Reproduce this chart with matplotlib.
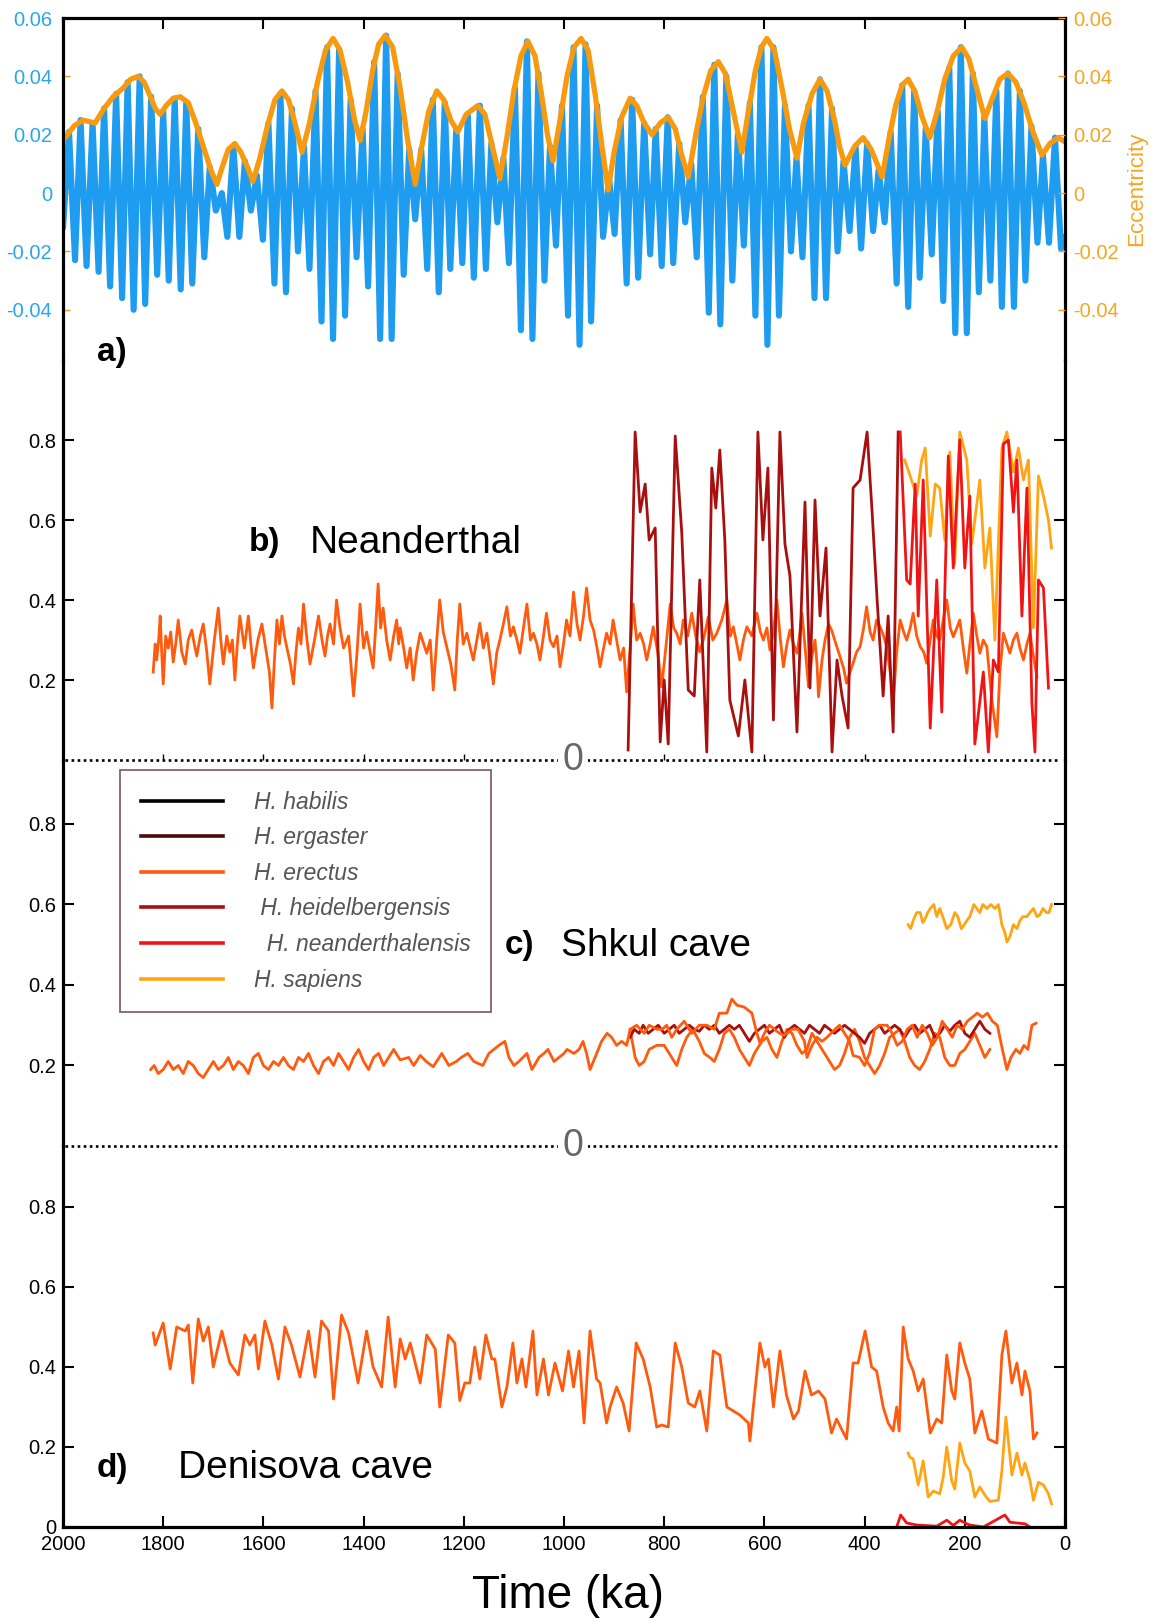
import matplotlib
matplotlib.use("Agg")
import matplotlib.pyplot as plt
from matplotlib.lines import Line2D

plt.rcParams["font.family"] = ["Liberation Sans", "DejaVu Sans"]

# ---- data (time in ka) --------------------------------------------------
# a) eccentricity envelope
ECC_T = [2000, 1996, 1978, 1960, 1948, 1936, 1918, 1900, 1880, 1865, 1850, 1838, 1828, 1816,
         1806, 1794, 1780, 1766, 1750, 1735, 1720, 1705, 1693, 1682, 1670, 1657, 1645, 1632,
         1621, 1607, 1592, 1577, 1563, 1550, 1537, 1523, 1508, 1492, 1476, 1461, 1447, 1432,
         1418, 1407, 1395, 1382, 1370, 1357, 1342, 1327, 1312, 1297, 1285, 1270, 1254, 1240,
         1226, 1212, 1195, 1172, 1158, 1143, 1128, 1114, 1100, 1086, 1072, 1058, 1045, 1033,
         1022, 1008, 994, 980, 966, 952, 938, 925, 912, 900, 885, 868, 855, 840, 824, 808,
         792, 778, 765, 752, 737, 722, 707, 692, 678, 662, 645, 632, 618, 606, 595, 580, 565,
         550, 535, 522, 505, 489, 475, 460, 450, 439, 420, 403, 387, 375, 365, 352, 338, 325,
         313, 300, 285, 270, 255, 240, 223, 206, 192, 175, 160, 146, 130, 114, 98, 82, 64, 46,
         30, 14, 4]
ECC_V = [0.018, 0.019, 0.023, 0.025, 0.0245, 0.024, 0.029, 0.033, 0.036, 0.039, 0.040, 0.038,
         0.034, 0.029, 0.027, 0.030, 0.0325, 0.033, 0.031, 0.024, 0.016, 0.008, 0.003, 0.009,
         0.015, 0.017, 0.014, 0.009, 0.004, 0.012, 0.023, 0.032, 0.035, 0.032, 0.024, 0.014,
         0.024, 0.038, 0.049, 0.053, 0.049, 0.038, 0.025, 0.018, 0.028, 0.042, 0.051, 0.054,
         0.050, 0.036, 0.018, 0.003, 0.015, 0.028, 0.035, 0.032, 0.025, 0.021, 0.027, 0.030,
         0.027, 0.016, 0.005, 0.019, 0.035, 0.047, 0.052, 0.047, 0.034, 0.020, 0.011, 0.025,
         0.040, 0.050, 0.053, 0.049, 0.034, 0.017, 0.001, 0.014, 0.026, 0.0325, 0.030, 0.024,
         0.020, 0.024, 0.026, 0.022, 0.013, 0.0055, 0.020, 0.033, 0.042, 0.045, 0.041, 0.028,
         0.014, 0.028, 0.042, 0.050, 0.053, 0.049, 0.036, 0.022, 0.012, 0.024, 0.034, 0.039,
         0.035, 0.025, 0.016, 0.0096, 0.016, 0.019, 0.015, 0.010, 0.0055, 0.018, 0.030, 0.037,
         0.039, 0.035, 0.026, 0.019, 0.028, 0.039, 0.047, 0.050, 0.046, 0.035, 0.0256, 0.032,
         0.039, 0.041, 0.038, 0.031, 0.021, 0.013, 0.017, 0.019, 0.018]

# a) precession index (extrema of each half cycle)
PREC_T = [2000, 1988, 1976, 1965, 1953, 1941, 1929, 1918, 1906, 1894, 1882, 1871, 1859, 1847,
          1836, 1824, 1812, 1800, 1789, 1777, 1765, 1754, 1742, 1730, 1718, 1707, 1695, 1683,
          1672, 1660, 1648, 1637, 1625, 1613, 1601, 1590, 1578, 1566, 1555, 1543, 1531, 1519,
          1508, 1496, 1484, 1473, 1461, 1449, 1437, 1426, 1414, 1402, 1391, 1379, 1367, 1355,
          1344, 1332, 1320, 1309, 1297, 1285, 1273, 1262, 1250, 1238, 1227, 1215, 1203, 1192,
          1180, 1168, 1156, 1145, 1133, 1121, 1110, 1098, 1086, 1074, 1063, 1051, 1039, 1028,
          1016, 1004, 992, 981, 969, 957, 946, 934, 922, 910, 899, 887, 875, 864, 852, 840,
          828, 817, 805, 793, 782, 770, 758, 746, 735, 723, 711, 700, 688, 676, 664, 653, 641,
          629, 618, 606, 594, 582, 571, 559, 547, 536, 524, 512, 500, 489, 477, 465, 454, 442,
          430, 418, 407, 395, 383, 372, 360, 348, 336, 325, 313, 301, 290, 278, 266, 254, 243,
          231, 219, 208, 196, 184, 172, 161, 149, 137, 126, 114, 102, 90, 79, 67, 55, 44, 32,
          20, 8, 2]
PREC_V = [-0.012, 0.021, -0.023, 0.025, -0.025, 0.024, -0.027, 0.029, -0.032, 0.034, -0.036,
          0.038, -0.040, 0.040, -0.038, 0.033, -0.028, 0.028, -0.030, 0.032, -0.033, 0.031,
          -0.031, 0.022, -0.022, 0.009, -0.006, 0.000, -0.015, 0.016, -0.015, 0.011, -0.006,
          0.006, -0.016, 0.024, -0.031, 0.034, -0.034, 0.029, -0.020, 0.016, -0.026, 0.035,
          -0.044, 0.050, -0.050, 0.049, -0.042, 0.032, -0.022, 0.022, -0.032, 0.045, -0.050,
          0.054, -0.050, 0.041, -0.028, 0.015, -0.009, 0.015, -0.026, 0.032, -0.034, 0.031,
          -0.026, 0.022, -0.024, 0.027, -0.029, 0.030, -0.026, 0.017, -0.010, 0.012, -0.024,
          0.036, -0.047, 0.052, -0.050, 0.041, -0.030, 0.016, -0.018, 0.030, -0.042, 0.050,
          -0.052, 0.051, -0.044, 0.030, -0.015, 0.005, -0.014, 0.025, -0.031, 0.032, -0.029,
          0.024, -0.021, 0.022, -0.025, 0.026, -0.024, 0.017, -0.010, 0.010, -0.022, 0.033,
          -0.041, 0.044, -0.045, 0.040, -0.030, 0.020, -0.018, 0.031, -0.042, 0.050, -0.052,
          0.050, -0.042, 0.030, -0.020, 0.012, -0.022, 0.030, -0.036, 0.039, -0.036, 0.029,
          -0.020, 0.011, -0.013, 0.016, -0.019, 0.017, -0.013, 0.008, -0.010, 0.021, -0.031,
          0.037, -0.039, 0.035, -0.029, 0.022, -0.021, 0.028, -0.037, 0.043, -0.048, 0.050,
          -0.048, 0.041, -0.034, 0.026, -0.030, 0.035, -0.039, 0.041, -0.039, 0.035, -0.030,
          0.023, -0.017, 0.013, -0.017, 0.019, -0.019, -0.015]

# b) Neanderthal
B_ERECTUS_T = [1820, 1816, 1813, 1809, 1806, 1803, 1800, 1795, 1790, 1785, 1780, 1775, 1770,
               1763, 1756, 1750, 1743, 1738, 1733, 1726, 1720, 1713, 1707, 1698, 1690, 1685,
               1680, 1673, 1667, 1662, 1657, 1652, 1647, 1638, 1630, 1625, 1620, 1611, 1603,
               1598, 1593, 1588, 1583, 1578, 1573, 1568, 1563, 1558, 1553, 1546, 1540, 1535,
               1530, 1525, 1520, 1513, 1507, 1498, 1490, 1483, 1477, 1472, 1467, 1460, 1454,
               1447, 1440, 1430, 1420, 1413, 1407, 1400, 1394, 1387, 1381, 1376, 1371, 1366,
               1361, 1354, 1347, 1340, 1334, 1330, 1327, 1320, 1314, 1307, 1301, 1294, 1287,
               1280, 1274, 1267, 1261, 1254, 1248, 1241, 1234, 1226, 1218, 1213, 1208, 1201,
               1194, 1187, 1181, 1174, 1168, 1161, 1154, 1148, 1141, 1134, 1128, 1121, 1114,
               1107, 1101, 1094, 1088, 1081, 1074, 1067, 1061, 1054, 1048, 1041, 1035, 1028,
               1021, 1014, 1008, 1001, 995, 988, 981, 974, 968, 961, 955, 948, 941, 934, 928,
               921, 915, 908, 902, 895, 888, 881, 875, 868, 862, 855, 848, 841, 835, 828, 822,
               813, 805, 796, 788, 781, 775, 768, 762, 753, 745, 737, 729, 720, 712, 703, 695,
               685, 675, 668, 662, 655, 649, 642, 635, 625, 615, 608, 602, 595, 589, 582, 575,
               568, 562, 555, 549, 542, 535, 530, 525, 518, 512, 505, 499, 495, 492, 485, 479,
               472, 466, 457, 449, 442, 436, 429, 423, 416, 409, 402, 396, 389, 383, 376, 369,
               362, 356, 349, 343, 336, 329, 322, 316, 309, 303, 296, 289, 282, 276, 269, 263,
               256, 250, 243, 236, 229, 223, 216, 210, 203, 196, 189, 183, 176, 170, 163, 156,
               146, 136, 130, 123, 116, 110, 103, 96, 90, 83, 76, 70, 63, 56]
B_ERECTUS_V = [0.22, 0.29, 0.25, 0.30, 0.36, 0.27, 0.19, 0.31, 0.28, 0.32, 0.245, 0.29, 0.35,
               0.27, 0.24, 0.30, 0.325, 0.29, 0.26, 0.31, 0.34, 0.27, 0.19, 0.30, 0.38, 0.30,
               0.24, 0.31, 0.27, 0.30, 0.20, 0.29, 0.36, 0.28, 0.36, 0.29, 0.23, 0.30, 0.34,
               0.30, 0.26, 0.22, 0.13, 0.25, 0.35, 0.29, 0.36, 0.31, 0.28, 0.24, 0.19, 0.27,
               0.33, 0.29, 0.39, 0.30, 0.24, 0.30, 0.36, 0.30, 0.26, 0.31, 0.34, 0.29, 0.40,
               0.33, 0.28, 0.31, 0.16, 0.27, 0.39, 0.28, 0.32, 0.27, 0.23, 0.33, 0.44, 0.33,
               0.38, 0.30, 0.25, 0.31, 0.35, 0.29, 0.33, 0.28, 0.23, 0.28, 0.20, 0.27, 0.317,
               0.29, 0.267, 0.30, 0.175, 0.30, 0.40, 0.32, 0.283, 0.24, 0.175, 0.30, 0.39,
               0.29, 0.317, 0.28, 0.25, 0.30, 0.342, 0.28, 0.317, 0.26, 0.19, 0.27, 0.30, 0.34,
               0.383, 0.31, 0.333, 0.30, 0.267, 0.33, 0.39, 0.30, 0.317, 0.29, 0.25, 0.31,
               0.367, 0.30, 0.283, 0.31, 0.233, 0.29, 0.35, 0.31, 0.42, 0.34, 0.30, 0.36, 0.43,
               0.35, 0.325, 0.28, 0.233, 0.28, 0.317, 0.29, 0.35, 0.30, 0.25, 0.28, 0.17, 0.28,
               0.39, 0.30, 0.317, 0.29, 0.25, 0.29, 0.333, 0.27, 0.183, 0.29, 0.39, 0.33, 0.317,
               0.29, 0.35, 0.31, 0.367, 0.31, 0.27, 0.31, 0.358, 0.30, 0.317, 0.35, 0.40, 0.31,
               0.333, 0.29, 0.25, 0.30, 0.333, 0.31, 0.367, 0.32, 0.30, 0.33, 0.275, 0.32, 0.40,
               0.30, 0.233, 0.29, 0.325, 0.29, 0.267, 0.31, 0.367, 0.27, 0.183, 0.26, 0.30,
               0.24, 0.158, 0.25, 0.30, 0.34, 0.325, 0.29, 0.258, 0.23, 0.192, 0.22, 0.242,
               0.27, 0.283, 0.33, 0.383, 0.32, 0.30, 0.35, 0.333, 0.31, 0.283, 0.22, 0.142,
               0.27, 0.35, 0.32, 0.30, 0.33, 0.367, 0.31, 0.283, 0.27, 0.242, 0.30, 0.35, 0.31,
               0.30, 0.35, 0.40, 0.33, 0.308, 0.33, 0.35, 0.28, 0.217, 0.30, 0.367, 0.31, 0.267,
               0.30, 0.283, 0.15, 0.058, 0.22, 0.317, 0.29, 0.267, 0.30, 0.317, 0.28, 0.25,
               0.29, 0.317, 0.26, 0.208]
B_HEIDEL_T = [872, 858, 848, 838, 830, 818, 808, 800, 792, 778, 765, 752, 740, 729, 715, 705,
              697, 689, 679, 669, 652, 639, 625, 613, 603, 593, 582, 569, 559, 549, 535, 519,
              509, 499, 489, 477, 465, 455, 445, 433, 423, 409, 395, 385, 375, 363, 353, 343,
              333]
B_HEIDEL_V = [0.025, 0.82, 0.62, 0.69, 0.55, 0.58, 0.045, 0.20, 0.04, 0.81, 0.57, 0.175, 0.16,
              0.45, 0.02, 0.73, 0.63, 0.775, 0.55, 0.15, 0.06, 0.20, 0.02, 0.82, 0.55, 0.73,
              0.10, 0.82, 0.54, 0.46, 0.07, 0.645, 0.18, 0.65, 0.36, 0.53, 0.02, 0.25, 0.16,
              0.08, 0.68, 0.70, 0.82, 0.62, 0.40, 0.16, 0.36, 0.07, 0.82]
B_NEAND_T = [329, 316, 309, 299, 293, 283, 269, 256, 246, 233, 223, 210, 200, 190, 180, 163,
             153, 143, 133, 123, 113, 103, 96, 86, 76, 66, 60, 53, 43, 33]
B_NEAND_V = [0.82, 0.45, 0.44, 0.69, 0.36, 0.70, 0.08, 0.45, 0.12, 0.76, 0.48, 0.80, 0.48,
             0.66, 0.04, 0.22, 0.02, 0.25, 0.22, 0.79, 0.80, 0.62, 0.75, 0.36, 0.68, 0.14,
             0.02, 0.45, 0.43, 0.18]
B_SAPIENS_T = [320, 309, 296, 286, 279, 269, 259, 250, 240, 230, 220, 210, 196, 186, 170, 160,
               150, 140, 126, 116, 103, 93, 83, 73, 63, 53, 43, 33, 27]
B_SAPIENS_V = [0.75, 0.71, 0.66, 0.75, 0.78, 0.56, 0.69, 0.68, 0.55, 0.77, 0.49, 0.82, 0.75,
               0.54, 0.70, 0.48, 0.58, 0.30, 0.78, 0.82, 0.72, 0.78, 0.70, 0.75, 0.33, 0.71,
               0.66, 0.60, 0.53]

# c) Shkul cave
C_ERECTUS_T = [1825, 1818, 1810, 1800, 1790, 1780, 1770, 1760, 1750, 1740, 1730, 1720, 1710,
               1700, 1690, 1680, 1670, 1660, 1650, 1640, 1630, 1620, 1610, 1600, 1590, 1580,
               1570, 1560, 1550, 1540, 1530, 1520, 1510, 1500, 1490, 1480, 1470, 1460, 1450,
               1440, 1430, 1420, 1410, 1400, 1390, 1380, 1370, 1360, 1350, 1340, 1327, 1310,
               1300, 1287, 1275, 1261, 1244, 1230, 1215, 1205, 1192, 1180, 1162, 1150, 1140,
               1130, 1118, 1110, 1100, 1090, 1074, 1064, 1050, 1040, 1032, 1020, 1010, 1000,
               994, 980, 970, 962, 955, 948, 938, 925, 914, 905, 895, 885, 875, 868, 855, 840,
               830, 815, 804, 795, 785, 775, 760, 745, 730, 715, 700, 690, 675, 665, 655, 640,
               625, 615, 609, 600, 590, 580, 570, 560, 545, 533, 520, 515, 505, 495, 485, 475,
               459, 450, 440, 430, 423, 410, 400, 390, 380, 370, 355, 345, 335, 325, 315, 305,
               295, 285, 275, 265, 255, 245, 235, 225, 215, 205, 195, 185, 175, 165, 155, 145,
               135, 125, 116, 108, 98, 90, 82, 74, 66, 58]
C_ERECTUS_V = [0.19, 0.20, 0.18, 0.19, 0.21, 0.19, 0.20, 0.18, 0.21, 0.20, 0.18, 0.17, 0.19,
               0.21, 0.19, 0.20, 0.22, 0.19, 0.21, 0.20, 0.18, 0.22, 0.23, 0.20, 0.19, 0.21,
               0.20, 0.22, 0.20, 0.19, 0.22, 0.21, 0.23, 0.20, 0.18, 0.21, 0.22, 0.20, 0.23,
               0.21, 0.19, 0.22, 0.24, 0.21, 0.19, 0.22, 0.23, 0.20, 0.22, 0.24, 0.214, 0.22,
               0.20, 0.225, 0.21, 0.197, 0.23, 0.20, 0.21, 0.22, 0.23, 0.21, 0.20, 0.23, 0.24,
               0.25, 0.26, 0.22, 0.20, 0.21, 0.23, 0.19, 0.22, 0.23, 0.24, 0.21, 0.22, 0.23,
               0.24, 0.23, 0.24, 0.26, 0.23, 0.19, 0.22, 0.26, 0.28, 0.27, 0.25, 0.26, 0.25,
               0.29, 0.30, 0.28, 0.30, 0.29, 0.29, 0.30, 0.27, 0.29, 0.31, 0.28, 0.30, 0.30,
               0.29, 0.33, 0.33, 0.365, 0.35, 0.345, 0.33, 0.28, 0.256, 0.28, 0.30, 0.29, 0.28,
               0.275, 0.29, 0.29, 0.26, 0.22, 0.25, 0.27, 0.26, 0.27, 0.29, 0.30, 0.28, 0.26,
               0.225, 0.22, 0.20, 0.23, 0.29, 0.30, 0.30, 0.28, 0.25, 0.26, 0.29, 0.30, 0.27,
               0.30, 0.28, 0.25, 0.27, 0.31, 0.29, 0.27, 0.30, 0.29, 0.31, 0.32, 0.33, 0.32,
               0.33, 0.31, 0.30, 0.24, 0.19, 0.22, 0.24, 0.23, 0.25, 0.24, 0.30, 0.305]
C_ERECTUS2_T = [868, 858, 850, 840, 830, 815, 800, 790, 775, 765, 755, 743, 730, 720, 709, 700,
                690, 680, 670, 660, 650, 640, 630, 620, 605, 595, 585, 575, 565, 555, 545, 535,
                525, 515, 505, 495, 485, 470, 460, 450, 440, 430, 420, 410, 400, 390, 380, 370,
                360, 350, 340, 330, 320, 310, 300, 290, 280, 270, 260, 250, 240, 230, 220, 210,
                200, 190, 180, 170, 160, 150]
C_ERECTUS2_V = [0.29, 0.22, 0.20, 0.21, 0.24, 0.25, 0.25, 0.23, 0.20, 0.24, 0.27, 0.29, 0.26,
                0.23, 0.22, 0.21, 0.24, 0.28, 0.29, 0.27, 0.24, 0.22, 0.20, 0.23, 0.26, 0.27,
                0.24, 0.22, 0.26, 0.29, 0.28, 0.25, 0.23, 0.24, 0.28, 0.26, 0.24, 0.21, 0.19,
                0.20, 0.23, 0.27, 0.29, 0.26, 0.22, 0.20, 0.18, 0.20, 0.23, 0.27, 0.28, 0.29,
                0.26, 0.22, 0.20, 0.19, 0.21, 0.24, 0.28, 0.27, 0.22, 0.20, 0.20, 0.23, 0.24,
                0.26, 0.28, 0.25, 0.22, 0.24]
C_HEIDEL_T = [868, 860, 850, 842, 832, 822, 812, 800, 790, 780, 770, 760, 750, 740, 730, 720,
              710, 700, 690, 680, 670, 660, 650, 640, 630, 620, 610, 600, 590, 580, 570, 560,
              550, 540, 530, 520, 510, 500, 490, 480, 470, 460, 450, 440, 430, 420, 410, 400,
              390, 380, 370, 360, 350, 340, 330, 320, 310, 300, 290, 280, 270, 260, 250, 240,
              230, 220, 210, 200, 190, 180, 170, 160, 150]
C_HEIDEL_V = [0.27, 0.29, 0.28, 0.30, 0.28, 0.29, 0.30, 0.28, 0.29, 0.30, 0.28, 0.29, 0.30,
              0.29, 0.285, 0.30, 0.29, 0.30, 0.28, 0.29, 0.30, 0.29, 0.30, 0.28, 0.26, 0.28,
              0.29, 0.30, 0.28, 0.29, 0.30, 0.27, 0.29, 0.30, 0.29, 0.28, 0.30, 0.29, 0.28,
              0.30, 0.29, 0.28, 0.29, 0.30, 0.29, 0.28, 0.27, 0.255, 0.28, 0.29, 0.30, 0.28,
              0.29, 0.30, 0.29, 0.27, 0.29, 0.30, 0.28, 0.29, 0.30, 0.27, 0.28, 0.30, 0.285,
              0.30, 0.31, 0.28, 0.27, 0.29, 0.31, 0.29, 0.28]
C_SAPIENS_T = [313, 308, 303, 296, 289, 284, 279, 274, 269, 262, 256, 250, 244, 236, 228, 220,
               214, 207, 201, 196, 190, 182, 176, 170, 164, 156, 148, 140, 133, 130, 126, 120,
               116, 110, 103, 96, 90, 84, 76, 70, 63, 56, 50, 44, 37, 32, 27]
C_SAPIENS_V = [0.55, 0.54, 0.56, 0.58, 0.58, 0.555, 0.565, 0.58, 0.59, 0.60, 0.57, 0.59, 0.57,
               0.54, 0.55, 0.58, 0.57, 0.54, 0.55, 0.56, 0.57, 0.60, 0.59, 0.58, 0.60, 0.59,
               0.60, 0.59, 0.60, 0.58, 0.55, 0.53, 0.507, 0.52, 0.55, 0.54, 0.56, 0.57, 0.57,
               0.58, 0.59, 0.57, 0.575, 0.59, 0.58, 0.58, 0.60]

# d) Denisova cave
D_ERECTUS_T = [1820, 1816, 1800, 1786, 1773, 1756, 1750, 1741, 1730, 1720, 1710, 1700, 1683,
               1667, 1650, 1637, 1627, 1617, 1610, 1597, 1583, 1570, 1557, 1544, 1527, 1510,
               1497, 1484, 1470, 1460, 1444, 1430, 1411, 1394, 1381, 1364, 1351, 1337, 1327,
               1317, 1307, 1287, 1274, 1257, 1248, 1231, 1218, 1208, 1198, 1188, 1178, 1168,
               1156, 1144, 1138, 1124, 1114, 1102, 1094, 1084, 1076, 1062, 1054, 1041, 1031,
               1018, 1003, 991, 981, 970, 960, 948, 935, 928, 915, 908, 895, 882, 870, 856, 842,
               828, 815, 805, 792, 778, 765, 752, 739, 729, 715, 702, 689, 675, 662, 649, 632,
               629, 609, 599, 592, 582, 569, 556, 542, 532, 519, 506, 492, 479, 466, 456, 436,
               423, 413, 399, 386, 376, 363, 353, 343, 336, 331, 323, 313, 303, 293, 283, 269,
               256, 246, 236, 226, 220, 210, 200, 190, 180, 166, 153, 136, 126, 118, 106, 96,
               86, 80, 70, 63, 56]
D_ERECTUS_V = [0.485, 0.455, 0.51, 0.395, 0.50, 0.49, 0.505, 0.36, 0.52, 0.465, 0.50, 0.40,
               0.49, 0.41, 0.38, 0.48, 0.455, 0.48, 0.395, 0.515, 0.455, 0.37, 0.50, 0.455,
               0.375, 0.49, 0.375, 0.515, 0.49, 0.32, 0.53, 0.485, 0.36, 0.49, 0.40, 0.35,
               0.525, 0.35, 0.47, 0.42, 0.46, 0.36, 0.48, 0.445, 0.30, 0.48, 0.46, 0.316, 0.36,
               0.36, 0.45, 0.37, 0.48, 0.42, 0.42, 0.30, 0.35, 0.46, 0.36, 0.42, 0.35, 0.49,
               0.33, 0.42, 0.33, 0.41, 0.34, 0.44, 0.35, 0.44, 0.26, 0.49, 0.37, 0.36, 0.26,
               0.30, 0.35, 0.31, 0.24, 0.46, 0.42, 0.35, 0.25, 0.255, 0.25, 0.46, 0.40, 0.31,
               0.30, 0.34, 0.24, 0.44, 0.43, 0.30, 0.29, 0.28, 0.26, 0.215, 0.46, 0.40, 0.42,
               0.30, 0.44, 0.33, 0.27, 0.29, 0.39, 0.33, 0.34, 0.32, 0.235, 0.27, 0.22, 0.41,
               0.41, 0.49, 0.40, 0.39, 0.30, 0.26, 0.24, 0.30, 0.24, 0.50, 0.42, 0.39, 0.34,
               0.37, 0.235, 0.27, 0.26, 0.43, 0.34, 0.32, 0.46, 0.41, 0.37, 0.235, 0.29, 0.22,
               0.21, 0.43, 0.49, 0.36, 0.41, 0.33, 0.39, 0.34, 0.22, 0.235]
D_SAPIENS_T = [313, 310, 303, 293, 283, 273, 263, 250, 243, 236, 226, 220, 210, 200, 190, 180,
               170, 160, 150, 133, 126, 118, 106, 96, 86, 80, 70, 63, 53, 43, 33, 27]
D_SAPIENS_V = [0.185, 0.175, 0.17, 0.105, 0.165, 0.075, 0.09, 0.083, 0.125, 0.20, 0.115,
               0.095, 0.21, 0.16, 0.14, 0.075, 0.10, 0.08, 0.064, 0.067, 0.14, 0.275, 0.13,
               0.185, 0.13, 0.16, 0.117, 0.067, 0.112, 0.105, 0.083, 0.058]
D_NEAND_T = [336, 328, 316, 296, 283, 256, 236, 223, 210, 196, 190, 163, 120, 110, 96, 80, 70]
D_NEAND_V = [0.0, 0.03, 0.01, 0.005, 0.004, 0.002, 0.017, 0.004, 0.017, 0.008, 0.005, 0.0,
             0.03, 0.012, 0.01, 0.008, 0.0]

SPECIES = ["H. habilis", "H. ergaster", "H. erectus", " H. heidelbergensis",
           "  H. neanderthalensis", "H. sapiens"]

# ---- styles --------------------------------------------------------------
C_HABILIS = "#000000"
C_ERGASTER = "#4a0b0b"
C_ERECTUS = "#ff5a0d"
C_HEIDEL = "#a80f0f"
C_NEAND = "#f01414"
C_SAPIENS = "#ffa514"
SPECIES_COLORS = [C_HABILIS, C_ERGASTER, C_ERECTUS, C_HEIDEL, C_NEAND, C_SAPIENS]
BLUE = "#1e9cf0"
ECC_ORANGE = "#f89a10"
LBL_BLUE = "#2aa6ee"
LBL_ORANGE = "#f5a623"
LW = 2.0
SPINE_W = 2.3
TICK_FS = 14.5

W, H = 1154, 1621
fig = plt.figure(figsize=(W / 100, H / 100), dpi=100)


def box(top, bottom):
    return [63 / W, 1 - bottom / H, (1065 - 63) / W, (bottom - top) / H]


def ftext(x, y, s, **kw):
    fig.text(x / W, 1 - y / H, s, **kw)


ax_a = fig.add_axes(box(18, 360))
ax_b = fig.add_axes(box(360, 760))
ax_c = fig.add_axes(box(760, 1146))
ax_d = fig.add_axes(box(1146, 1527))

for ax in (ax_a, ax_b, ax_c, ax_d):
    ax.set_xlim(2000, 0)
    ax.patch.set_visible(False)
    for s in ax.spines.values():
        s.set_linewidth(SPINE_W)
        s.set_visible(False)
    ax.spines["left"].set_visible(True)
    ax.spines["right"].set_visible(True)
    ax.set_xticks(range(2000, -1, -200))

# ---- a) precession + eccentricity ---------------------------------------
ax_a.spines["top"].set_visible(True)
ax_a.plot(PREC_T, PREC_V, color=BLUE, lw=4.4, solid_joinstyle="round", solid_capstyle="round")
ax_a.plot(ECC_T, ECC_V, color=ECC_ORANGE, lw=3.8, solid_joinstyle="round")
ax_a.set_ylim(-0.0572, 0.06)
aticks = [-0.04, -0.02, 0, 0.02, 0.04, 0.06]
alabels = ["-0.04", "-0.02", "0", "0.02", "0.04", "0.06"]
ax_a.set_yticks(aticks)
ax_a.set_yticklabels(alabels)
ax_a.tick_params(axis="y", direction="in", length=5, width=1, color=ECC_ORANGE,
                 labelcolor=LBL_BLUE, labelsize=TICK_FS, pad=8, right=False)
ax_a.tick_params(axis="x", top=True, bottom=False, direction="in", length=8, width=1.5,
                 labelbottom=False, labeltop=False)
ax_a2 = ax_a.twinx()
for s in ax_a2.spines.values():
    s.set_visible(False)
ax_a2.set_ylim(ax_a.get_ylim())
ax_a2.set_yticks(aticks)
ax_a2.set_yticklabels(alabels)
ax_a2.tick_params(axis="y", direction="in", length=5, width=1, color=ECC_ORANGE,
                  labelcolor=LBL_ORANGE, labelsize=TICK_FS, pad=6)
ax_a2.set_ylabel("Eccentricity", color=LBL_ORANGE, fontsize=16, labelpad=5)

# ---- b) Neanderthal ------------------------------------------------------
ax_b.plot(B_ERECTUS_T, B_ERECTUS_V, color=C_ERECTUS, lw=LW)
ax_b.plot(B_HEIDEL_T, B_HEIDEL_V, color=C_HEIDEL, lw=LW)
ax_b.plot(B_SAPIENS_T, B_SAPIENS_V, color=C_SAPIENS, lw=LW)
ax_b.plot(B_NEAND_T, B_NEAND_V, color=C_NEAND, lw=LW)
ax_b.set_ylim(0, 1.0)

# ---- c) Shkul cave -------------------------------------------------------
ax_c.plot(C_ERECTUS2_T, C_ERECTUS2_V, color=C_ERECTUS, lw=LW)
ax_c.plot(C_HEIDEL_T, C_HEIDEL_V, color=C_HEIDEL, lw=LW)
ax_c.plot(C_ERECTUS_T, C_ERECTUS_V, color=C_ERECTUS, lw=LW)
ax_c.plot(C_SAPIENS_T, C_SAPIENS_V, color=C_SAPIENS, lw=LW)
ax_c.set_ylim(0, 0.959)

# ---- d) Denisova cave ----------------------------------------------------
ax_d.spines["bottom"].set_visible(True)
ax_d.plot(D_ERECTUS_T, D_ERECTUS_V, color=C_ERECTUS, lw=LW)
ax_d.plot(D_SAPIENS_T, D_SAPIENS_V, color=C_SAPIENS, lw=LW)
ax_d.plot(D_NEAND_T, D_NEAND_V, color=C_NEAND, lw=LW)
ax_d.set_ylim(0, 0.9525)

yt = [0.2, 0.4, 0.6, 0.8]
for ax in (ax_b, ax_c):
    ax.set_yticks(yt)
    ax.set_yticklabels(["0.2", "0.4", "0.6", "0.8"])
ax_d.set_yticks([0] + yt)
ax_d.set_yticklabels(["0", "0.2", "0.4", "0.6", "0.8"])
for ax in (ax_b, ax_c, ax_d):
    ax.tick_params(axis="y", left=True, right=True, direction="in", length=8, width=1.5,
                   labelsize=TICK_FS, pad=5)
ax_b.tick_params(axis="x", bottom=True, direction="in", length=4, width=1, labelbottom=False)
ax_c.tick_params(axis="x", bottom=False, labelbottom=False)
ax_d.tick_params(axis="x", bottom=True, direction="in", length=8, width=1.5, labelsize=TICK_FS,
                 pad=6)
ax_d.set_xticklabels([str(t) for t in range(2000, -1, -200)])

# dotted zero lines between panels
for ax in (ax_b, ax_c):
    ax.axhline(0, xmin=0.002, xmax=0.992, color="black", lw=1.9, ls=(0, (1, 1.3)),
               clip_on=False)
for yz in (760, 1146):
    ftext(573, yz, "0", fontsize=27, color="#666666", ha="center", va="center",
          bbox=dict(facecolor="white", edgecolor="none", pad=3))

# panel titles
ftext(97, 352, "a)", fontsize=24, fontweight="bold", va="center")
ftext(249, 543, "b)", fontsize=24, fontweight="bold", va="center")
ftext(310, 543, "Neanderthal", fontsize=28, va="center")
ftext(505, 946, "c)", fontsize=24, fontweight="bold", va="center")
ftext(561, 946, "Shkul cave", fontsize=28, va="center")
ftext(97, 1468, "d)", fontsize=24, fontweight="bold", va="center")
ftext(178, 1468, "Denisova cave", fontsize=28, va="center")
ftext(568, 1596, "Time (ka)", fontsize=33, ha="center", va="center")

# legend
handles = [Line2D([], [], color=c, lw=2.6) for c in SPECIES_COLORS]
leg = ax_c.legend(handles, SPECIES, loc="upper left", bbox_to_anchor=(120 / W, 1 - 770 / H),
                  bbox_transform=fig.transFigure, frameon=True, fancybox=False,
                  edgecolor="#5b2a2a", prop={"style": "italic", "size": 16.5},
                  labelcolor="#555555", handlelength=3.6, handletextpad=1.35,
                  labelspacing=0.55, borderpad=0.9, borderaxespad=0)
leg.get_frame().set_linewidth(1.2)

fig.savefig("out.png", dpi=100)
